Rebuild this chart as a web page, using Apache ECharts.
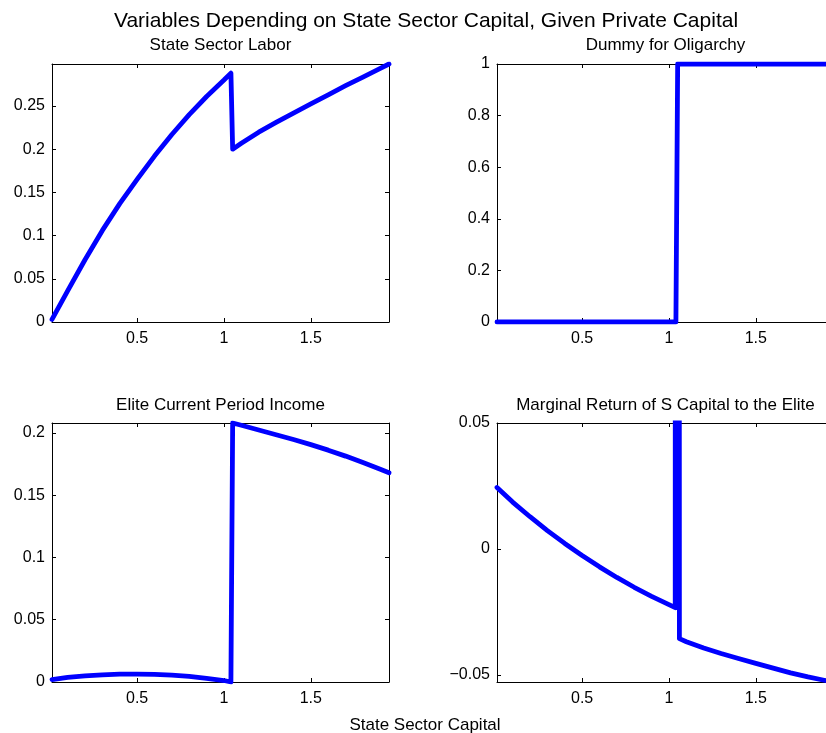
<!DOCTYPE html>
<html><head><meta charset="utf-8">
<script src="https://cdn.jsdelivr.net/npm/echarts@6/dist/echarts.min.js"></script>
<style>html,body{margin:0;padding:0;background:#fff;overflow:hidden}#c{width:836px;height:733px}</style>
</head><body><div id="c"></div>
<script>
// ---- data ----
const mainTitle = 'Variables Depending on State Sector Capital, Given Private Capital';
const xLabel = 'State Sector Capital';
const panelTitles = ['State Sector Labor', 'Dummy for Oligarchy', 'Elite Current Period Income', 'Marginal Return of S Capital to the Elite'];

const laborX = [0.01, 0.1, 0.2, 0.3, 0.4, 0.5, 0.6, 0.7, 0.8, 0.9, 1.0, 1.04, 1.05, 1.1, 1.2, 1.3, 1.4, 1.5, 1.6, 1.7, 1.8, 1.9, 1.95];
const laborY = [0.003, 0.036, 0.072, 0.106, 0.137, 0.165, 0.192, 0.217, 0.240, 0.261, 0.280, 0.288, 0.200, 0.2068, 0.2197, 0.231, 0.2418, 0.2524, 0.263, 0.2735, 0.2835, 0.2935, 0.2986];

const oligX = [0.01, 0.5, 1.0, 1.04, 1.05, 1.5, 1.95];
const oligY = [0, 0, 0, 0, 1, 1, 1];

const incomeX = [0.01, 0.1, 0.2, 0.3, 0.4, 0.5, 0.6, 0.7, 0.8, 0.9, 1.0, 1.04, 1.05, 1.1, 1.2, 1.3, 1.4, 1.5, 1.6, 1.7, 1.8, 1.9, 1.95];
const incomeY = [0.002, 0.0038, 0.0049, 0.0058, 0.0063, 0.0064, 0.0062, 0.0055, 0.0045, 0.003, 0.0012, 0.0, 0.208, 0.2062, 0.2024, 0.1986, 0.1947, 0.1906, 0.1862, 0.1814, 0.1762, 0.1708, 0.168];

const mrX = [0.01, 0.1, 0.2, 0.3, 0.4, 0.5, 0.6, 0.7, 0.8, 0.9, 1.0, 1.036, 1.04, 1.048, 1.052, 1.06, 1.1, 1.2, 1.3, 1.4, 1.5, 1.6, 1.7, 1.8, 1.9, 1.95];
const mrY = [0.0244, 0.0186, 0.0128, 0.0073, 0.0022, -0.0026, -0.0071, -0.0113, -0.0152, -0.0188, -0.0221, -0.0233, 2.0, -0.0233, 2.0, -0.0356, -0.0368, -0.0393, -0.0415, -0.0435, -0.0454, -0.0473, -0.0492, -0.0508, -0.0522, -0.0528];

const xTicks = [0.5, 1, 1.5];
const yTicks = [
  [0, 0.05, 0.1, 0.15, 0.2, 0.25],
  [0, 0.2, 0.4, 0.6, 0.8, 1],
  [0, 0.05, 0.1, 0.15, 0.2],
  [-0.05, 0, 0.05]
];
const xRange = [0.01, 1.95];
const yRanges = [[0, 0.2986], [0, 1], [0, 0.208], [-0.0528, 0.05]];

// ---- layout ----
const FONT = '"Liberation Sans", Arial, Helvetica, sans-serif';
const grids = [
  {left: 52, top: 64, width: 337, height: 258},
  {left: 497, top: 64, width: 337, height: 258},
  {left: 52, top: 423, width: 337, height: 259},
  {left: 497, top: 423, width: 337, height: 259}
];
const titlePos = [[220.5, 45], [665.5, 45], [220.5, 405], [665.5, 405]];
const seriesXY = [[laborX, laborY], [oligX, oligY], [incomeX, incomeY], [mrX, mrY]];

const fmt = v => String(v).replace('-', '\u2212');
const xAxes = [], yAxes = [], series = [], graphic = [];
grids.forEach((g, i) => {
  const common = {type: 'value', gridIndex: i, splitLine: {show: false}};
  const line = {show: true, onZero: false, lineStyle: {color: '#000', width: 1}};
  xAxes.push(Object.assign({}, common, {
    position: 'bottom', min: xRange[0], max: xRange[1], axisLine: line,
    axisTick: {show: true, inside: true, length: 4, customValues: xTicks, lineStyle: {color: '#000'}},
    axisLabel: {show: true, customValues: xTicks, formatter: fmt, color: '#000', fontSize: 16, fontFamily: FONT, margin: 9}
  }));
  xAxes.push(Object.assign({}, common, {
    position: 'top', min: xRange[0], max: xRange[1], axisLine: line,
    axisTick: {show: true, inside: true, length: 4, customValues: xTicks, lineStyle: {color: '#000'}},
    axisLabel: {show: false}
  }));
  yAxes.push(Object.assign({}, common, {
    position: 'left', min: yRanges[i][0], max: yRanges[i][1], axisLine: line,
    axisTick: {show: true, inside: true, length: 4, customValues: yTicks[i], lineStyle: {color: '#000'}},
    axisLabel: {show: true, customValues: yTicks[i], formatter: fmt, color: '#000', fontSize: 16, fontFamily: FONT, margin: 7}
  }));
  yAxes.push(Object.assign({}, common, {
    position: 'right', min: yRanges[i][0], max: yRanges[i][1], axisLine: line,
    axisTick: {show: true, inside: true, length: 4, customValues: yTicks[i], lineStyle: {color: '#000'}},
    axisLabel: {show: false}
  }));
  const [xs, ys] = seriesXY[i];
  series.push({
    type: 'line', xAxisIndex: 2 * i, yAxisIndex: 2 * i,
    data: xs.map((x, k) => [x, ys[k]]),
    showSymbol: false, symbol: 'none', clip: true,
    lineStyle: {color: '#0000ff', width: 4.8, join: 'round', cap: 'round'},
    itemStyle: {color: '#0000ff'}
  });
  graphic.push({
    type: 'text', x: titlePos[i][0], y: titlePos[i][1],
    style: {text: panelTitles[i], fontSize: 17, fontFamily: FONT, fill: '#000', align: 'center', verticalAlign: 'middle'}
  });
});
graphic.push({type: 'text', x: 426, y: 21,
  style: {text: mainTitle, fontSize: 21, fontFamily: FONT, fill: '#000', align: 'center', verticalAlign: 'middle'}});
graphic.push({type: 'text', x: 425, y: 725,
  style: {text: xLabel, fontSize: 17, fontFamily: FONT, fill: '#000', align: 'center', verticalAlign: 'middle'}});

const chart = echarts.init(document.getElementById('c'), null, {renderer: 'canvas', width: 836, height: 733});
chart.setOption({
  animation: false,
  backgroundColor: '#fff',
  grid: grids,
  xAxis: xAxes,
  yAxis: yAxes,
  series: series,
  graphic: graphic
});
</script></body></html>
